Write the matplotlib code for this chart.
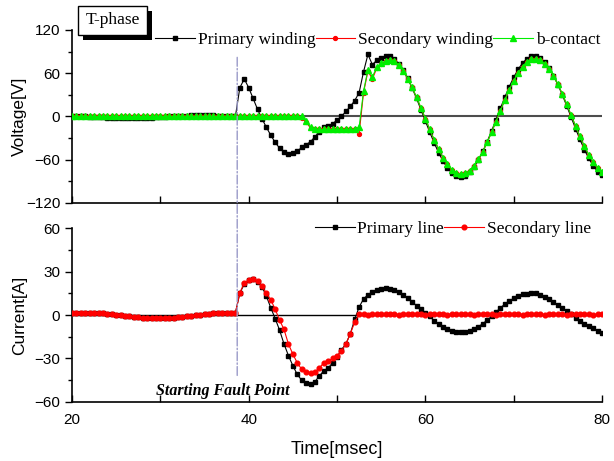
import numpy as np
import matplotlib
matplotlib.use("Agg")
import matplotlib.pyplot as plt
from matplotlib.patches import ConnectionPatch, Rectangle

# === Data (time step 0.5 ms, 20 .. 80 ms) ===
time_ms = np.linspace(20, 80, 121)

primary_winding = [
    0.5, 0.5, 0.3, 0.0, -0.3, -0.6, -1.0, -1.3, -1.6, -1.9,
    -2.0, -2.2, -2.2, -2.3, -2.2, -2.1, -2.0, -1.8, -1.5, -1.2,
    -0.8, -0.4, 0.0, 0.4, 0.7, 1.0, 1.2, 1.4, 1.5, 1.6,
    1.6, 1.5, 1.4, 1.2, 1.0, 0.8, 0.6, 0.5, 40.0, 52.0,
    40.0, 25.0, 10.0, -3.0, -15.0, -26.0, -36.0, -44.0, -49.0, -52.0,
    -51.0, -48.0, -43.0, -39.0, -35.0, -28.0, -21.0, -15.0, -13.0, -10.0,
    -5.0, 0.0, 7.0, 14.0, 22.0, 33.0, 62.0, 86.0, 72.0, 78.0,
    81.6, 83.9, 83.2, 79.6, 73.1, 64.1, 52.7, 39.6, 25.0, 9.5,
    -6.3, -21.9, -36.7, -50.2, -61.9, -71.5, -78.5, -82.7, -84.0, -82.3,
    -77.7, -70.4, -60.6, -48.5, -34.8, -19.9, -4.3, 11.5, 26.9, 41.4,
    54.3, 65.4, 74.1, 80.2, 83.5, 83.8, 81.1, 75.6, 67.3, 56.8,
    44.2, 30.0, 14.7, -1.0, -16.7, -31.9, -45.9, -58.2, -68.5, -76.4,
    -81.6,
]

secondary_winding = [
    0.0, 0.0, 0.0, 0.0, 0.0, 0.0, 0.0, 0.0, 0.0, 0.0,
    0.0, 0.0, 0.0, 0.0, 0.0, 0.0, 0.0, 0.0, 0.0, 0.0,
    0.0, 0.0, 0.0, 0.0, 0.0, 0.0, 0.0, 0.0, 0.0, 0.0,
    0.0, 0.0, 0.0, 0.0, 0.0, 0.0, 0.0, 0.0, 0.0, 0.0,
    0.0, 0.0, 0.0, 0.0, 0.0, 0.0, 0.0, 0.0, 0.0, 0.0,
    0.0, 0.0, -2.0, -8.0, -16.0, -17.0, -18.0, -18.0, -18.0, -18.0,
    -18.0, -18.0, -18.0, -18.0, -18.0, -24.0, 33.0, 63.0, 52.0, 67.0,
    73.0, 76.5, 78.0, 76.7, 71.0, 62.9, 52.5, 40.2, 26.6, 12.0,
    -3.0, -18.0, -32.3, -45.4, -57.0, -66.5, -73.6, -78.2, -80.0, -78.9,
    -75.1, -68.6, -59.6, -48.6, -35.8, -21.8, -7.0, 8.1, 22.9, 36.8,
    49.5, 60.4, 69.1, 75.5, 79.1, 79.9, 77.9, 73.2, 65.8, 56.2,
    44.5, 31.3, 16.9, 1.9, -13.1, -27.6, -41.2, -53.2, -63.5, -71.5,
    -77.0,
]

b_contact = [
    0.0, 0.0, 0.0, 0.0, 0.0, 0.0, 0.0, 0.0, 0.0, 0.0,
    0.0, 0.0, 0.0, 0.0, 0.0, 0.0, 0.0, 0.0, 0.0, 0.0,
    0.0, 0.0, 0.0, 0.0, 0.0, 0.0, 0.0, 0.0, 0.0, 0.0,
    0.0, 0.0, 0.0, 0.0, 0.0, 0.0, 0.0, 0.0, 0.0, 0.0,
    0.0, 0.0, 0.0, 0.0, 0.0, 0.0, 0.0, 0.0, 0.0, 0.0,
    0.0, 0.0, 0.0, -6.0, -15.0, -17.0, -18.0, -18.0, -18.0, -18.0,
    -18.0, -18.0, -18.0, -18.0, -17.5, -15.0, 35.0, 65.0, 55.0, 68.0,
    74.0, 77.0, 78.0, 76.7, 71.0, 62.9, 52.5, 40.2, 26.6, 12.0,
    -3.0, -18.0, -32.3, -45.4, -57.0, -66.5, -73.6, -78.2, -80.0, -78.9,
    -75.1, -68.6, -59.6, -48.6, -35.8, -21.8, -7.0, 8.1, 22.9, 36.8,
    49.5, 60.4, 69.1, 75.5, 79.1, 79.9, 77.9, 73.2, 65.8, 56.2,
    44.5, 31.3, 16.9, 1.9, -13.1, -27.6, -41.2, -53.2, -63.5, -71.5,
    -77.0,
]

primary_line = [
    1.5, 1.5, 1.5, 1.5, 1.5, 1.4, 1.3, 1.1, 0.8, 0.5,
    0.2, -0.2, -0.6, -1.0, -1.3, -1.6, -1.9, -2.1, -2.2, -2.3,
    -2.3, -2.3, -2.2, -2.0, -1.7, -1.4, -1.0, -0.6, -0.2, 0.2,
    0.6, 0.9, 1.2, 1.4, 1.5, 1.6, 1.6, 1.6, 15.0, 21.5,
    24.0, 24.5, 23.0, 19.5, 13.0, 5.0, -2.5, -10.5, -20.0, -28.0,
    -35.0, -41.0, -45.0, -47.0, -47.5, -46.0, -42.0, -38.5, -36.5, -33.0,
    -29.0, -24.0, -20.0, -13.0, -3.0, 5.5, 11.0, 14.0, 16.0, 17.5,
    18.0, 18.4, 18.2, 17.5, 15.8, 14.0, 11.5, 9.0, 6.5, 4.0,
    1.5, -1.0, -4.0, -6.5, -8.5, -10.0, -11.0, -11.6, -11.9, -11.8,
    -11.0, -9.8, -8.0, -6.0, -3.5, -1.0, 2.0, 5.0, 7.5, 9.8,
    11.5, 13.0, 14.2, 14.8, 15.0, 14.9, 14.0, 12.5, 10.8, 9.0,
    7.0, 5.0, 2.8, 0.5, -2.0, -4.3, -6.2, -7.8, -9.2, -10.8,
    -12.2,
]

secondary_line = [
    1.5, 1.5, 1.5, 1.5, 1.5, 1.4, 1.3, 1.1, 0.8, 0.5,
    0.2, -0.2, -0.6, -1.0, -1.3, -1.6, -1.9, -2.1, -2.2, -2.3,
    -2.3, -2.3, -2.2, -2.0, -1.7, -1.4, -1.0, -0.6, -0.2, 0.2,
    0.6, 0.9, 1.2, 1.4, 1.5, 1.6, 1.6, 1.6, 15.5, 22.0,
    24.0, 24.6, 23.3, 20.0, 15.0, 10.5, 4.0, -3.5, -10.0, -20.0,
    -27.0, -33.0, -37.5, -39.5, -40.0, -39.5, -36.5, -33.0, -31.7, -30.0,
    -28.0, -25.0, -20.0, -13.0, -5.0, 0.5, 0.5, 0.3, 0.6, 0.4,
    0.5, 0.6, 0.4, 0.5, 0.3, 0.6, 0.5, 0.4, 0.6, 0.5,
    0.3, 0.5, 0.6, 0.4, 0.5, 0.3, 0.6, 0.5, 0.4, 0.5,
    0.6, 0.3, 0.5, 0.4, 0.6, 0.5, 0.3, 0.5, 0.6, 0.4,
    0.5, 0.6, 0.3, 0.5, 0.4, 0.6, 0.5, 0.3, 0.5, 0.6,
    0.4, 0.5, 0.3, 0.6, 0.5, 0.4, 0.5, 0.6, 0.3, 0.5,
    0.5,
]

fault_time = 38.7

plt.rcParams['font.family'] = ['Liberation Sans', 'DejaVu Sans']
serif = ['Liberation Serif', 'DejaVu Serif']

W, H = 614, 461
fig = plt.figure(figsize=(W / 100, H / 100), dpi=100)
ax1 = fig.add_axes([0.1173, 0.5597, 0.8632, 0.3753])
ax2 = fig.add_axes([0.1173, 0.128, 0.8632, 0.3774])

leg_kw = dict(frameon=False, handlelength=2.3, handletextpad=0.15, columnspacing=0.0,
              borderpad=0, borderaxespad=0, prop={'family': serif, 'size': 12.5})

# --- Voltage panel ---
ax1.axhline(0, color='#4d4d4d', lw=1.5, zorder=1)
ax1.plot(time_ms, primary_winding, color='black', lw=0.8, marker='s', ms=3.4,
         label='Primary winding', zorder=3)
ax1.plot(time_ms, secondary_winding, color='red', lw=0.8, marker='o', ms=2.8,
         label='Secondary winding', zorder=4)
ax1.plot(time_ms, b_contact, color='#00ee00', lw=0.8, marker='^', ms=4.2,
         label='b-contact', zorder=5)
ax1.set_xlim(20, 80)
ax1.set_ylim(-120, 120)
ax1.set_yticks([-120, -60, 0, 60, 120])
ax1.set_yticks([-90, -30, 30, 90], minor=True)
ax1.set_xticks([20, 40, 60, 80])
ax1.set_xticks([30, 50, 70], minor=True)
ax1.set_xticklabels([])
ax1.set_ylabel('Voltage[V]', fontsize=12.5)
ax1.yaxis.set_label_coords(-0.085, 0.5)
ax1.legend(loc='center left', bbox_to_anchor=(0.157, 0.942), ncol=3, **leg_kw)

# "T-phase" box with solid drop shadow (pixel positions of the figure)
fig.add_artist(Rectangle((83 / W, 1 - 40 / H), 69 / W, 29 / H,
                         transform=fig.transFigure, fc='black', ec='none'))
fig.add_artist(Rectangle((78 / W, 1 - 35 / H), 69 / W, 29 / H,
                         transform=fig.transFigure, fc='white', ec='black', lw=1))
fig.text(112.5 / W, 1 - 20 / H, 'T-phase', family=serif, fontsize=12.5,
         ha='center', va='center')

# --- Current panel ---
ax2.axhline(0, color='black', lw=1.0, zorder=1)
ax2.plot(time_ms, primary_line, color='black', lw=0.8, marker='s', ms=3.4,
         label='Primary line', zorder=3)
ax2.plot(time_ms, secondary_line, color='red', lw=0.8, marker='o', ms=3.4,
         label='Secondary line', zorder=4)
ax2.set_xlim(20, 80)
ax2.set_ylim(-60, 60)
ax2.set_yticks([-60, -30, 0, 30, 60])
ax2.set_yticks([-45, -15, 15, 45], minor=True)
ax2.set_xticks([20, 40, 60, 80])
ax2.set_xticks([30, 50, 70], minor=True)
ax2.set_ylabel('Current[A]', fontsize=12.5)
ax2.yaxis.set_label_coords(-0.085, 0.5)
ax2.set_xlabel('Time[msec]', fontsize=13, labelpad=10)
ax2.legend(loc='center left', bbox_to_anchor=(0.458, 0.994), ncol=2, **leg_kw)
ax2.text(37.1, -52.5, 'Starting Fault Point', family=serif, fontsize=11.5,
         fontweight='bold', fontstyle='italic', ha='center', va='center')

for ax in (ax1, ax2):
    ax.spines['top'].set_visible(False)
    ax.spines['right'].set_visible(False)
    ax.spines['left'].set_linewidth(1.2)
    ax.spines['bottom'].set_linewidth(1.2)
    ax.tick_params(axis='y', which='major', direction='out', length=5, width=1, labelsize=11)
    ax.tick_params(axis='y', which='minor', direction='out', length=3, width=1)
    ax.tick_params(axis='x', which='both', direction='in', length=5, width=1,
                   labelsize=11, pad=8)

# dash-dot marker of the fault instant across both panels
con = ConnectionPatch(xyA=(fault_time, 82), coordsA=ax1.transData,
                      xyB=(fault_time, -42.7), coordsB=ax2.transData,
                      color='#9a9ac8', lw=1.0, linestyle='-.')
fig.add_artist(con)

fig.savefig('out.png', dpi=100)
